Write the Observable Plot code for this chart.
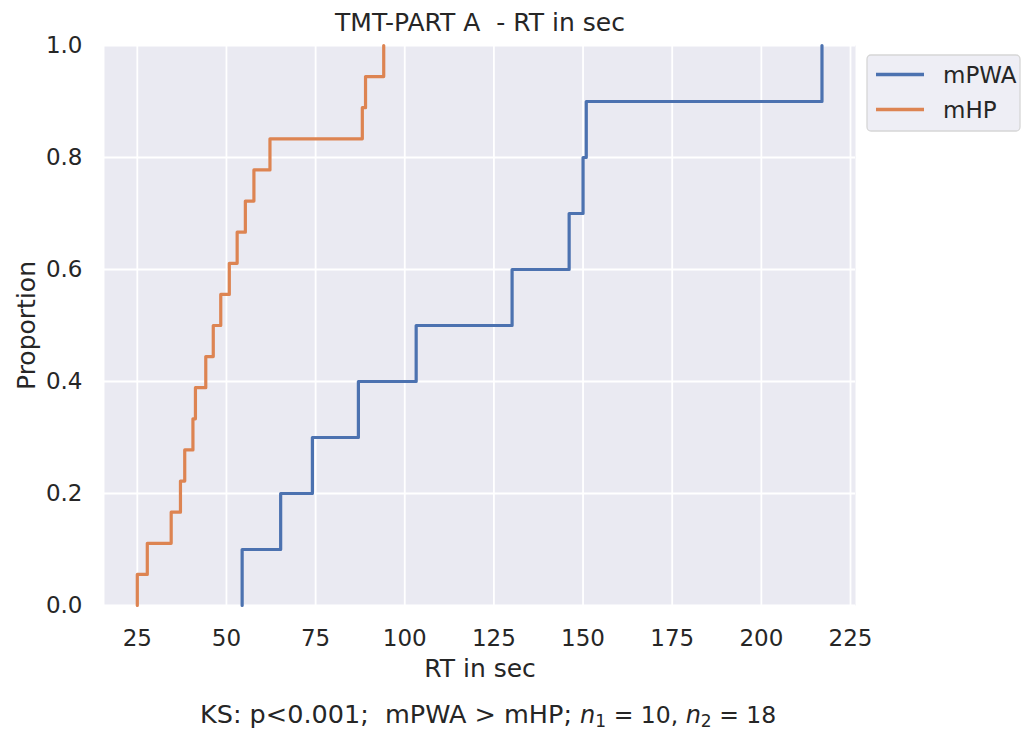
<!DOCTYPE html>
<html>
<head>
<meta charset="utf-8">
<script src="https://cdn.jsdelivr.net/npm/d3@7"></script>
<script src="https://cdn.jsdelivr.net/npm/@observablehq/plot@0.6"></script>
<style>
  html, body { margin: 0; padding: 0; background: white; }
  svg text { white-space: pre; }
</style>
</head>
<body>
<div id="chart"></div>
<script>
// ---- data ----
const categories = ["mPWA", "mHP"];
const seriesColors = ["#4c72b0", "#dd8452"];
const mPWA = [54.4, 65.2, 74.1, 87.0, 103.2, 130.1, 146.1, 150.0, 150.9, 217.0];
const mHP = [25.0, 27.8, 34.5, 37.1, 38.3, 40.6, 41.3, 44.2, 46.3, 48.4, 50.8, 53.0, 55.3, 57.7, 62.2, 88.1, 89.0, 94.1];
const xTicks = [25, 50, 75, 100, 125, 150, 175, 200, 225];
const yTicks = [0, 0.2, 0.4, 0.6, 0.8, 1.0];
const titleText = "TMT-PART A  - RT in sec";
const xLabel = "RT in sec";
const yLabel = "Proportion";

// ECDF step points built from the values
function ecdf(values, group) {
  const v = values.slice().sort((a, b) => a - b);
  const n = v.length;
  const pts = [{x: v[0], y: 0, group}];
  v.forEach((x, i) => pts.push({x, y: (i + 1) / n, group}));
  return pts;
}
const table = [...ecdf(mPWA, "mPWA"), ...ecdf(mHP, "mHP")];

const font = "DejaVu Sans";
const ink = "#262626";

const chart = Plot.plot({
  width: 1024,
  height: 731,
  marginLeft: 104,
  marginRight: 169,
  marginTop: 45,
  marginBottom: 126,
  style: {fontFamily: font, color: ink, background: "white", overflow: "visible"},
  x: {domain: [15.8, 226.4]},
  y: {domain: [0, 1]},
  color: {domain: categories, range: seriesColors},
  marks: [
    Plot.frame({fill: "#eaeaf2", stroke: "none"}),
    Plot.gridX(xTicks, {stroke: "white", strokeOpacity: 1, strokeWidth: 1.8}),
    Plot.gridY(yTicks, {stroke: "white", strokeOpacity: 1, strokeWidth: 1.8}),
    Plot.axisX(xTicks, {tickSize: 0, tickPadding: 24, fontSize: 23, label: null}),
    Plot.axisY(yTicks, {tickSize: 0, tickPadding: 22, fontSize: 23, label: null, tickFormat: d => d.toFixed(1)}),
    Plot.line(table, {x: "x", y: "y", z: "group", stroke: "group", curve: "step-after", strokeWidth: 3.2}),
    Plot.text([titleText], {frameAnchor: "top", dy: -23, lineAnchor: "middle", textAnchor: "middle", fontSize: 25, fill: ink}),
    Plot.text([xLabel], {frameAnchor: "bottom", dy: 63, lineAnchor: "middle", textAnchor: "middle", fontSize: 25, fill: ink}),
    Plot.text([yLabel], {frameAnchor: "left", dx: -78, rotate: -90, lineAnchor: "middle", textAnchor: "middle", fontSize: 25, fill: ink})
  ]
});

document.getElementById("chart").appendChild(chart);

const svg = d3.select(chart);

// legend
const lg = svg.append("g");
lg.append("rect")
  .attr("x", 867).attr("y", 55).attr("width", 153).attr("height", 76)
  .attr("rx", 4).attr("fill", "#eeeef5").attr("stroke", "#d6d6d6").attr("stroke-width", 1.3);
categories.forEach((c, i) => {
  const y = 74.5 + i * 35;
  lg.append("line").attr("x1", 876).attr("x2", 924).attr("y1", y).attr("y2", y)
    .attr("stroke", seriesColors[i]).attr("stroke-width", 3.3);
  lg.append("text").attr("x", 943).attr("y", y + 8.5).attr("text-anchor", "start")
    .attr("font-family", font).attr("font-size", 23).attr("fill", ink).text(c);
});

// caption
const cap = svg.append("text")
  .attr("x", 200).attr("y", 723).attr("text-anchor", "start")
  .attr("font-family", font).attr("font-size", 25.5).attr("fill", ink);
cap.append("tspan").text("KS: p<0.001;  mPWA > mHP; ");
cap.append("tspan").attr("font-style", "italic").attr("font-size", 24).text("n");
cap.append("tspan").attr("font-size", 17).attr("dy", 4).text("1");
cap.append("tspan").attr("dy", -4).attr("font-size", 23.5).text(" = 10, ");
cap.append("tspan").attr("font-style", "italic").attr("font-size", 24).text("n");
cap.append("tspan").attr("font-size", 17).attr("dy", 4).text("2");
cap.append("tspan").attr("dy", -4).attr("font-size", 23.5).text(" = 18");
</script>
</body>
</html>
